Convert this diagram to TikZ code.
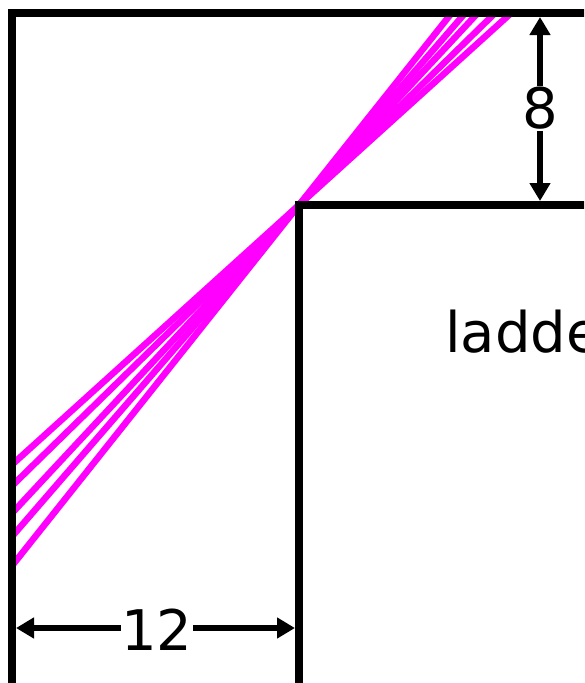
\documentclass[tikz,border=0pt]{standalone}
\usepackage{fontspec}
\setmainfont{DejaVu Sans}
\usetikzlibrary{arrows.meta}
\definecolor{mag}{RGB}{255,0,255}
\begin{document}
\begin{tikzpicture}[x=1pt,y=-1pt,
  wall/.style={line width=7.5pt},
  ladderline/.style={mag, line width=6.5pt},
  dim/.style={line width=6pt,-{Triangle[length=18pt,width=20pt]}},
  lbl/.style={font=\fontsize{56}{60}\selectfont, inner sep=0pt}]
\useasboundingbox (0,0) rectangle (584,683);
\clip (0,0) rectangle (584,683);
% ladder positions
\coordinate (P) at (299,205);
\coordinate (a1) at (12,464.7); \coordinate (b1) at (511.2,13);
\coordinate (a2) at (12,485.9); \coordinate (b2) at (495.1,13);
\coordinate (a3) at (12,513.2); \coordinate (b3) at (477.8,13);
\coordinate (a4) at (12,536.5); \coordinate (b4) at (465.2,13);
\coordinate (a5) at (12,565.8); \coordinate (b5) at (451.7,13);
\foreach \i in {1,...,5} \draw[ladderline] (a\i) -- (b\i);
% walls
\coordinate (TL) at (12,13);
\coordinate (TR) at (590,13);
\coordinate (BL) at (12,690);
\coordinate (IB) at (299,690);
\coordinate (IR) at (590,205);
\draw[wall] (BL) -- (TL) -- (TR);
\draw[wall] (IB) -- (P) -- (IR);
% dimension 8
\node[lbl] (n8) at (540,108.5) {8};
\coordinate (d8t) at (540,17);
\coordinate (d8b) at (540,201);
\draw[dim] (n8.north) ++(0,-1) -- (d8t);
\draw[dim] (n8.south) ++(0,1) -- (d8b);
% dimension 12
\node[lbl] (n12) at (157,630) {12};
\coordinate (d12l) at (16,628);
\coordinate (d12r) at (295,628);
\draw[dim] (n12.west |- d12l) -- (d12l);
\draw[dim] (n12.east |- d12r) -- (d12r);
% label
\node[lbl, anchor=base west] (lad) at (445,352) {ladder};
\end{tikzpicture}
\end{document}
